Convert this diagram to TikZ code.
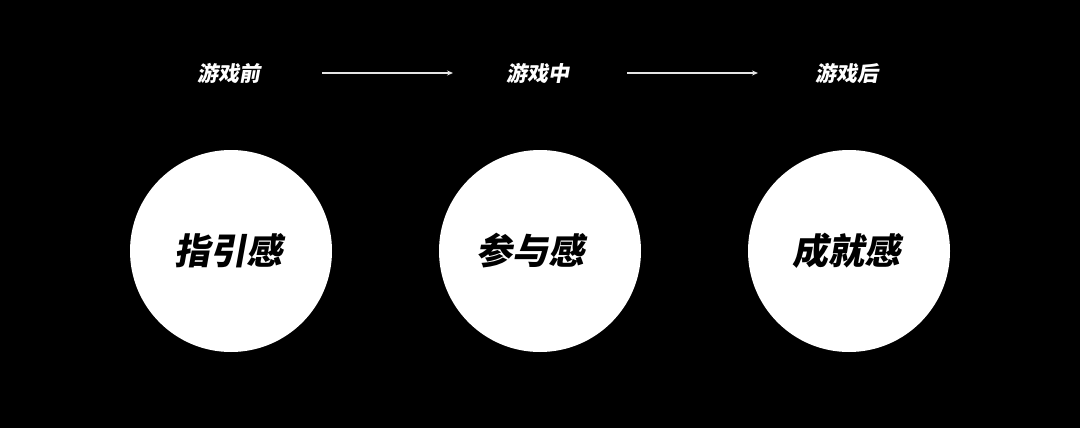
\documentclass[tikz,border=0pt]{standalone}
\usepackage{fontspec}
\newfontfamily\cjkbold[FakeSlant=0.18]{Noto Sans CJK SC Black}
\usetikzlibrary{arrows.meta}
\begin{document}
\begin{tikzpicture}[x=1pt,y=-1pt,
  stage/.style={text=white,font=\cjkbold\fontsize{21}{21}\selectfont,inner sep=0pt},
  disc/.style={circle,fill=white,minimum size=202pt,inner sep=0pt},
  disctext/.style={font=\cjkbold\fontsize{36}{36}\selectfont,text=black,inner sep=0pt},
  flow/.style={draw=white!90!black,line width=1.3pt,-{Stealth[length=6pt,width=5pt]}}]
\fill[black] (0,0) rectangle (1080,428);
\useasboundingbox (0,0) rectangle (1080,428);
\node[stage] (s1) at (229,73) {游戏前};
\node[stage] (s2) at (538,73) {游戏中};
\node[stage] (s3) at (847,73) {游戏后};
\coordinate (a1) at (322,73);
\coordinate (b1) at (453,73);
\coordinate (a2) at (627,73);
\coordinate (b2) at (758,73);
\draw[flow] (a1) -- (b1);
\draw[flow] (a2) -- (b2);
\node[disc] (c1) at (231,251) {};
\node[disc] (c2) at (540,251) {};
\node[disc] (c3) at (849,251) {};
\node[disctext] (t1) at ([xshift=-3pt]c1.center) {指引感};
\node[disctext] (t2) at ([xshift=-10pt]c2.center) {参与感};
\node[disctext] (t3) at ([xshift=-3pt]c3.center) {成就感};
\end{tikzpicture}
\end{document}
